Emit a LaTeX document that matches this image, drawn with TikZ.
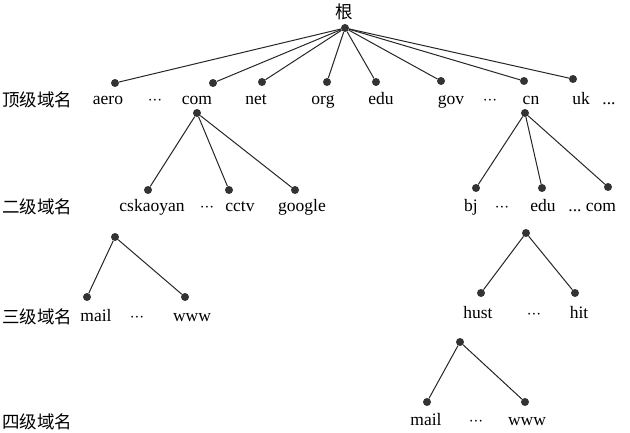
\documentclass[tikz,border=0pt]{standalone}
\usepackage{fontspec}
\setmainfont{Liberation Serif}
\newfontfamily\cjk{Noto Sans CJK SC}
\newcommand{\mydots}{${\cdot}{\cdot}{\cdot}$}
\begin{document}
\begin{tikzpicture}[x=1pt,y=-1pt,
  dot/.style={circle,fill=black!80,inner sep=0pt,minimum size=8pt},
  edge/.style={draw=black!85,line width=1pt},
  lbl/.style={anchor=base,inner sep=0pt,font=\fontsize{17.5}{20}\selectfont},
  lvl/.style={anchor=west,inner sep=0pt,font=\cjk\fontsize{17.5}{20}\selectfont}]
\useasboundingbox (0,0) rectangle (630,433);
% root
\node[inner sep=0pt,font=\cjk\fontsize{17.5}{20}\selectfont] (rootlbl) at (344,12) {根};
\node[dot] (root) at (345,28) {};
% level labels
\node[lvl] (l1) at (2,100) {顶级域名};
\node[lvl] (l2) at (2,207) {二级域名};
\node[lvl] (l3) at (2,317) {三级域名};
\node[lvl] (l4) at (2,422) {四级域名};
% top-level dots
\node[dot] (aero) at (115,83) {};
\node[dot] (com) at (213,83) {};
\node[dot] (net) at (262,82) {};
\node[dot] (org) at (327,82) {};
\node[dot] (edu) at (376,82) {};
\node[dot] (gov) at (441,81) {};
\node[dot] (cn) at (524,81) {};
\node[dot] (uk) at (573,79) {};
\foreach \n in {aero,com,net,org,edu,gov,cn,uk} \draw[edge] (root) -- (\n);
% top-level labels
\node[lbl] (taero) at (108,105) {aero};
\node[lbl] (td1) at (155,105) {\mydots};
\node[lbl] (tcom) at (197,105) {com};
\node[lbl] (tnet) at (256,105) {net};
\node[lbl] (torg) at (323,105) {org};
\node[lbl] (tedu) at (381,105) {edu};
\node[lbl] (tgov) at (451,105) {gov};
\node[lbl] (td2) at (490,105) {\mydots};
\node[lbl] (tcn) at (531,105) {cn};
\node[lbl] (tuk) at (581,105) {uk};
\node[lbl] (td3) at (609,105) {...};
% com subtree
\node[dot] (comr) at (197,113) {};
\node[dot] (csk) at (148,190) {};
\node[dot] (cctv) at (229,190) {};
\node[dot] (goog) at (295,190) {};
\foreach \n in {csk,cctv,goog} \draw[edge] (comr) -- (\n);
\node[lbl] (tcsk) at (152,212) {cskaoyan};
\node[lbl] (td4) at (207,212) {\mydots};
\node[lbl] (tcctv) at (240,212) {cctv};
\node[lbl] (tgoog) at (302,212) {google};
% cn subtree
\node[dot] (cnr) at (525,113) {};
\node[dot] (bj) at (476,188) {};
\node[dot] (edu2) at (542,188) {};
\node[dot] (com2) at (608,187) {};
\foreach \n in {bj,edu2,com2} \draw[edge] (cnr) -- (\n);
\node[lbl] (tbj) at (471,212) {bj};
\node[lbl] (td5) at (502,212) {\mydots};
\node[lbl] (tedu2) at (543,212) {edu};
\node[lbl] (td6) at (575,212) {...};
\node[lbl] (tcom2) at (601,212) {com};
% cskaoyan subtree
\node[dot] (cskr) at (115,237) {};
\node[dot] (mail1) at (87,297) {};
\node[dot] (www1) at (185,297) {};
\draw[edge] (cskr) -- (mail1);
\draw[edge] (cskr) -- (www1);
\node[lbl] (tmail1) at (96,321) {mail};
\node[lbl] (td7) at (137,321) {\mydots};
\node[lbl] (twww1) at (192,321) {www};
% edu subtree
\node[dot] (edur) at (526,233) {};
\node[dot] (hust) at (481,293) {};
\node[dot] (hit) at (575,293) {};
\draw[edge] (edur) -- (hust);
\draw[edge] (edur) -- (hit);
\node[lbl] (thust) at (478,318) {hust};
\node[lbl] (td8) at (534,318) {\mydots};
\node[lbl] (thit) at (579,318) {hit};
% hust subtree
\node[dot] (hustr) at (460,342) {};
\node[dot] (mail2) at (427,402) {};
\node[dot] (www2) at (525,402) {};
\draw[edge] (hustr) -- (mail2);
\draw[edge] (hustr) -- (www2);
\node[lbl] (tmail2) at (426,425) {mail};
\node[lbl] (td9) at (476,425) {\mydots};
\node[lbl] (twww2) at (527,425) {www};
\end{tikzpicture}
\end{document}
